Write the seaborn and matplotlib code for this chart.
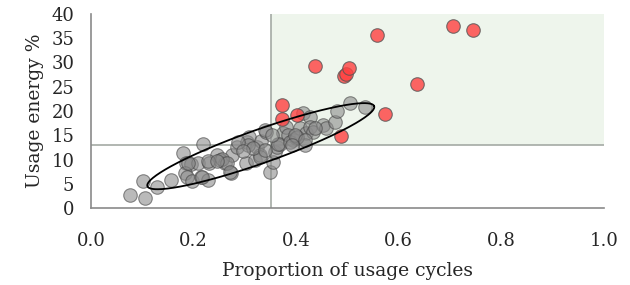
import numpy as np
import pandas as pd
import seaborn as sns
import matplotlib.pyplot as plt
from matplotlib.patches import Rectangle

# gray cluster (typical usage)
gray_x = [0.076, 0.106, 0.101, 0.128, 0.156, 0.179, 0.219, 0.186, 0.195, 0.183,
          0.188, 0.197, 0.209, 0.215, 0.229, 0.230, 0.245, 0.251, 0.261, 0.272,
          0.274, 0.284, 0.302, 0.304, 0.309, 0.320, 0.323, 0.329, 0.331, 0.342,
          0.349, 0.355, 0.359, 0.362, 0.368, 0.375, 0.381, 0.385, 0.394, 0.400,
          0.407, 0.414, 0.420, 0.427, 0.427, 0.433, 0.453, 0.459, 0.476, 0.479,
          0.505, 0.534, 0.417, 0.255, 0.265, 0.229, 0.190, 0.216, 0.271, 0.245,
          0.329, 0.365, 0.388, 0.401, 0.339, 0.307, 0.287, 0.316, 0.352, 0.437,
          0.398, 0.391, 0.417, 0.296, 0.340]
gray_y = [2.7, 2.1, 5.6, 4.4, 5.8, 11.4, 13.1, 9.2, 9.0, 7.2,
          6.4, 5.6, 9.2, 6.5, 5.8, 9.2, 10.9, 9.9, 9.2, 7.3,
          10.9, 12.6, 9.3, 13.7, 14.7, 9.9, 12.6, 10.9, 13.9, 15.7,
          7.4, 9.5, 11.6, 12.6, 13.3, 15.4, 16.8, 15.1, 14.0, 14.4,
          16.4, 19.5, 15.4, 18.8, 16.8, 15.7, 17.1, 16.6, 17.8, 19.9,
          21.6, 20.9, 13.0, 10.2, 9.2, 9.6, 9.2, 6.5, 7.5, 9.6,
          10.6, 13.3, 13.7, 14.7, 16.1, 13.0, 13.7, 12.3, 15.1, 16.4,
          15.1, 13.0, 14.0, 11.8, 12.0]

# red outliers
red_x = [0.372, 0.373, 0.402, 0.437, 0.487, 0.494, 0.498, 0.502, 0.557, 0.574,
         0.636, 0.705, 0.745]
red_y = [21.2, 18.4, 19.2, 29.3, 14.8, 27.2, 27.7, 28.9, 35.7, 19.4,
         25.6, 37.6, 36.6]

x_thr = 0.35
y_thr = 13
x_ticks = [0.0, 0.2, 0.4, 0.6, 0.8, 1.0]
y_ticks = [0, 5, 10, 15, 20, 25, 30, 35, 40]

# ellipse around the normal cluster: major-axis ends (data units) + minor/major ratio
ell_ends_x = [0.110, 0.552]
ell_ends_y = [4.5, 21.0]
ell_ratio = 0.14

gray_df = pd.DataFrame({"cycles": gray_x, "energy": gray_y})
red_df = pd.DataFrame({"cycles": red_x, "energy": red_y})

sns.set_style("white")
plt.rcParams['font.family'] = ['DejaVu Serif']

fig = plt.figure(figsize=(6.3, 2.85), dpi=100)
ax = fig.add_axes([0.1444, 0.270, 0.8143, 0.681])
ax.set_xlim(0, 1)
ax.set_ylim(0, 40)

# shaded quadrant + threshold lines
ax.add_patch(Rectangle((x_thr, y_thr), 1 - x_thr, 40 - y_thr,
                       facecolor="#eef5ec", edgecolor="none", zorder=0))
ax.plot([x_thr, x_thr], [0, 40], color="#a4aaa4", lw=1.2, zorder=1)
ax.plot([0, 1], [y_thr, y_thr], color="#a4aaa4", lw=1.2, zorder=1)

sns.scatterplot(data=gray_df, x="cycles", y="energy", ax=ax, s=95,
                color="#8c8c8c", alpha=0.6, edgecolor="#444444", linewidth=0.8,
                zorder=3, clip_on=False)
sns.scatterplot(data=red_df, x="cycles", y="energy", ax=ax, s=95,
                color="#ff4040", alpha=0.8, edgecolor="#555555", linewidth=0.8,
                zorder=4, clip_on=False)

# draw the ellipse in display space so its shape is right on screen
p = ax.transData.transform(np.column_stack([ell_ends_x, ell_ends_y]))
c = p.mean(axis=0)
d = p[1] - c
a = np.hypot(*d)
u = d / a
v = np.array([-u[1], u[0]])
t = np.linspace(0, 2 * np.pi, 300)
pts = c + np.outer(np.cos(t) * a, u) + np.outer(np.sin(t) * a * ell_ratio, v)
ed = ax.transData.inverted().transform(pts)
ax.plot(ed[:, 0], ed[:, 1], color="black", lw=1.3, zorder=5)

ax.set_xticks(x_ticks)
ax.set_xticklabels([f"{v:.1f}" for v in x_ticks])
ax.set_yticks(y_ticks)
ax.set_xlabel("Proportion of usage cycles", fontsize=13.5, labelpad=9)
ax.set_ylabel("Usage energy %", fontsize=13.5, labelpad=5)

for side in ["top", "right"]:
    ax.spines[side].set_visible(False)
for side in ["left", "bottom"]:
    ax.spines[side].set_color("#8a8a8a")
    ax.spines[side].set_linewidth(1.2)
ax.tick_params(axis="both", direction="out", length=7, width=1.2,
               color="#8a8a8a", labelsize=13, pad=5)
ax.tick_params(axis="x", pad=10)

fig.savefig("out.png", dpi=100)
